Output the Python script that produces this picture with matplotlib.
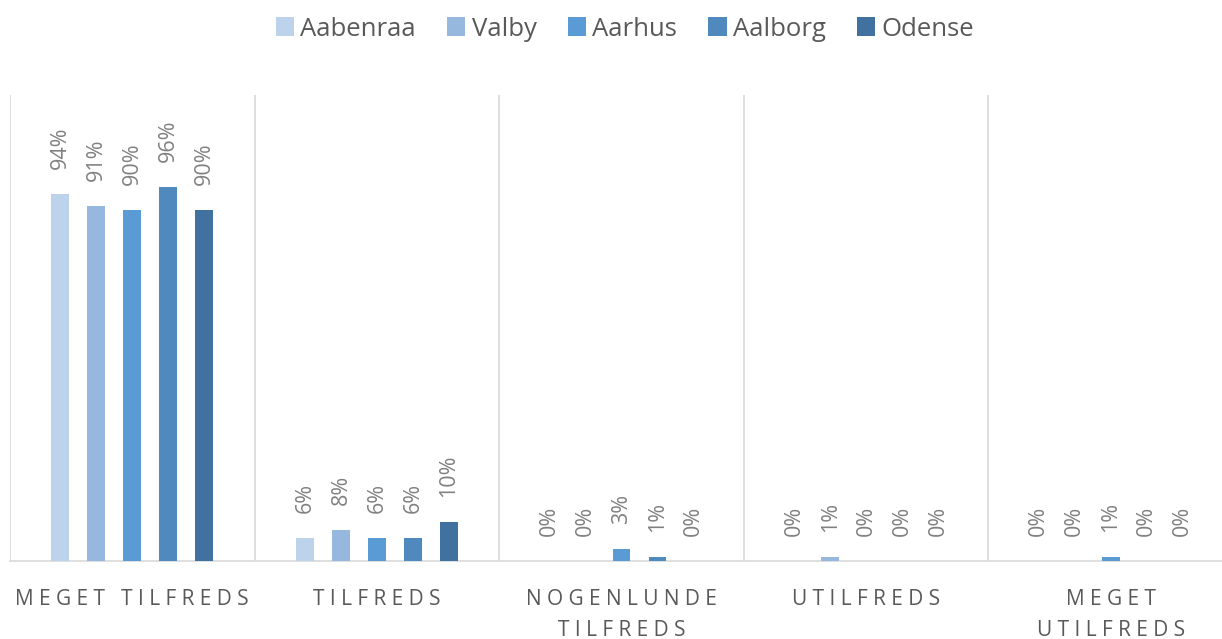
import numpy as np
import matplotlib
matplotlib.use('Agg')
from matplotlib import pyplot as plt
from matplotlib import transforms

# Data
categories = ['MEGET TILFREDS', 'TILFREDS', 'NOGENLUNDE\nTILFREDS', 'UTILFREDS', 'MEGET\nUTILFREDS']
cities = ['Aabenraa', 'Valby', 'Aarhus', 'Aalborg', 'Odense']
values = {
    'Aabenraa': [94, 6, 0, 0, 0],
    'Valby': [91, 8, 0, 1, 0],
    'Aarhus': [90, 6, 3, 0, 1],
    'Aalborg': [96, 6, 1, 0, 0],
    'Odense': [90, 10, 0, 0, 0],
}
colors = ['#BDD3EC', '#96B8DF', '#5B9BD5', '#4F89BE', '#41729F']

plt.rcParams['font.family'] = ['Open Sans', 'DejaVu Sans']

fig = plt.figure(figsize=(12.22, 6.39), dpi=100)
W, H = 1222, 639
ax = fig.add_axes([10 / W, 78 / H, 1223 / W, 466 / H])

x = np.arange(len(categories))
offsets = [-0.294, -0.147, 0, 0.147, 0.294]
for city, off, col in zip(cities, offsets, colors):
    v = values[city]
    ax.bar(x + off, v, width=0.073, color=col, label=city, zorder=3)
    for xi, vi in zip(x + off, v):
        ax.annotate(f'{vi}%', (xi, vi), xytext=(0, 18), textcoords='offset points',
                    rotation=90, ha='center', va='bottom', color='#808080', fontsize=15.5)

ax.set_xlim(-0.5, len(categories) - 0.5)
ax.set_ylim(0, 119.5)
ax.set_yticks([])
ax.set_xticks([])
for b in np.arange(-0.5, len(categories), 1.0):
    ax.axvline(b, color='#D9D9D9', lw=1.2, zorder=1)
for s in ['top', 'right', 'left']:
    ax.spines[s].set_visible(False)
ax.spines['bottom'].set_color('#D9D9D9')
ax.spines['bottom'].set_linewidth(1.2)

# letter-spaced category labels, one text per line
trans = transforms.blended_transform_factory(ax.transData, fig.transFigure)
for xi, cat in zip(x, categories):
    for i, line in enumerate(cat.split('\n')):
        txt = '   '.join(' '.join(w) for w in line.split(' '))
        ax.text(xi, 1 - (605 + 31 * i) / H, txt, transform=trans, ha='center', va='baseline',
                color='#595959', fontsize=15, clip_on=False)

handles, labels = ax.get_legend_handles_labels()
fig.legend(handles, labels, loc='center', bbox_to_anchor=(625 / W, 1 - 29 / H), ncol=5,
           frameon=False, fontsize=18.5, labelcolor='#595959', handlelength=0.72,
           handleheight=0.72, handletextpad=0.25, columnspacing=1.2)

fig.savefig('out.png', dpi=100)
